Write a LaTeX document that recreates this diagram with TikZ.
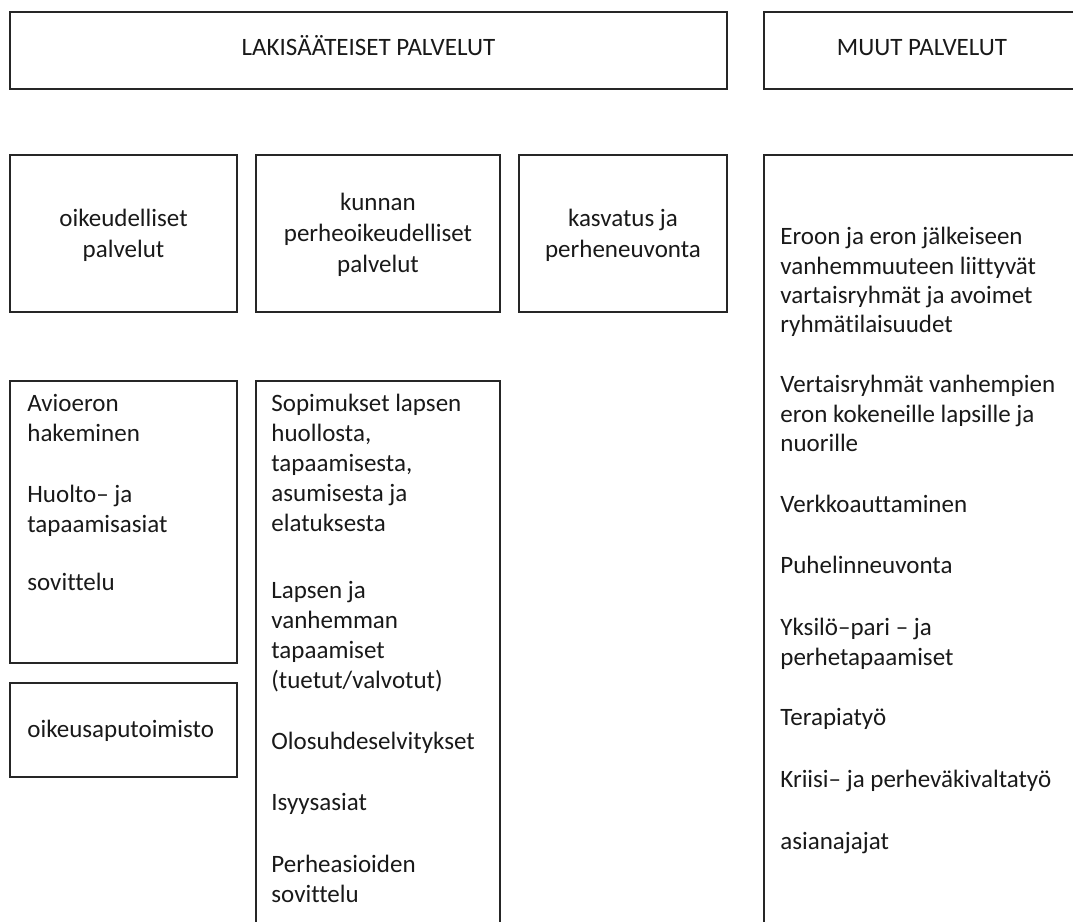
\documentclass[tikz,border=0pt]{standalone}
\usepackage{fontspec}
\setmainfont{Carlito}[Ligatures={NoCommon,TeX}]
\usetikzlibrary{fit}
\newcommand{\bodyfont}{\fontsize{12.5}{15}\selectfont}
\newcommand{\headfont}{\fontsize{12.5}{15.5}\selectfont}
\newcommand{\rightfont}{\fontsize{12.5}{14.65}\selectfont}
\begin{document}
\begin{tikzpicture}[x=0.5pt,y=-0.5pt,
  box/.style={draw=black!85, line width=0.75pt, inner sep=0pt},
  para/.style={anchor=north west, inner sep=0pt, align=left, font=\bodyfont, text=black!90},
  ctext/.style={anchor=north, inner sep=0pt, align=center, font=\headfont, text=black!90},
  rpara/.style={para, font=\rightfont}]
\useasboundingbox (0,0) rectangle (1073,922);
\clip (0,0) rectangle (1073,922);
% top row
\node[box, fit={(10,12)(727,89)}] (lak) {};
\node[box, fit={(764,12)(1081,89)}] (muut) {};
\node[ctext] (lakt) at (368.5,33) {\strut LAKISÄÄTEISET PALVELUT};
\node[ctext] (muutt) at (922,33) {\strut MUUT PALVELUT};
% second row
\node[box, fit={(10,155)(237,312)}] (oik) {};
\node[box, fit={(256,155)(500,312)}] (kun) {};
\node[box, fit={(519,155)(727,312)}] (kas) {};
\node[ctext] (oikt) at (123.5,204) {\strut oikeudelliset\\palvelut};
\node[ctext] (kunt) at (378,188) {\strut kunnan\\perheoikeudelliset\\palvelut};
\node[ctext] (kast) at (623,204) {\strut kasvatus ja\\perheneuvonta};
% right tall box
\node[box, fit={(764,155)(1081,940)}] (oth) {};
% left column lower boxes
\node[box, fit={(10,381)(237,663)}] (avi) {};
\node[box, fit={(10,683)(237,777)}] (oap) {};
\node[box, fit={(256,381)(500,940)}] (sop) {};
% texts in left lower box
\node[para] (a1) at (27,390) {\strut Avioeron\\hakeminen};
\node[para] (a2) at (27,481) {\strut Huolto– ja\\tapaamisasiat};
\node[para] (a3) at (27,569) {\strut sovittelu};
\node[para] (o1) at (27,716) {\strut oikeusaputoimisto};
% texts in middle lower box
\node[para] (s1) at (271,390) {\strut Sopimukset lapsen\\huollosta,\\tapaamisesta,\\asumisesta ja\\elatuksesta};
\node[para] (s2) at (271,577) {\strut Lapsen ja\\vanhemman\\tapaamiset\\(tuetut/valvotut)};
\node[para] (s3) at (271,728) {\strut Olosuhdeselvitykset};
\node[para] (s4) at (271,789) {\strut Isyysasiat};
\node[para] (s5) at (271,851) {\strut Perheasioiden\\sovittelu};
% texts in right box
\node[rpara] (r1) at (780,224) {\strut Eroon ja eron jälkeiseen\\vanhemmuuteen liittyvät\\vartaisryhmät ja avoimet\\ryhmätilaisuudet};
\node[rpara] (r2) at (780,372) {\strut Vertaisryhmät vanhempien\\eron kokeneille lapsille ja\\nuorille};
\node[rpara] (r3) at (780,492) {\strut Verkkoauttaminen};
\node[rpara] (r4) at (780,553) {\strut Puhelinneuvonta};
\node[rpara] (r5) at (780,615) {\strut Yksilö–pari – ja\\perhetapaamiset};
\node[rpara] (r6) at (780,705) {\strut Terapiatyö};
\node[rpara] (r7) at (780,767) {\strut Kriisi– ja perheväkivaltatyö};
\node[rpara] (r8) at (780,829) {\strut asianajajat};
\end{tikzpicture}
\end{document}
